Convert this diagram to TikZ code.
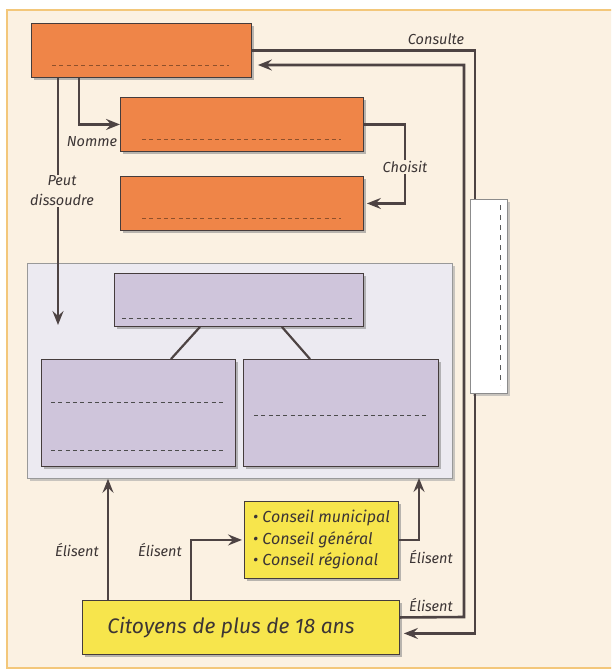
\documentclass[tikz,border=0pt]{standalone}
\usepackage{fontspec}
\setmainfont{Fira Sans}
\usetikzlibrary{arrows.meta,shadows}
\definecolor{cream}{HTML}{FBF1E2}
\definecolor{framec}{HTML}{F3C77A}
\definecolor{orng}{HTML}{EF8548}
\definecolor{lav}{HTML}{CFC5DB}
\definecolor{lavlight}{HTML}{ECEAF1}
\definecolor{yel}{HTML}{F7E54C}
\definecolor{ln}{HTML}{4D4343}
\definecolor{txt}{HTML}{3C3535}
\tikzset{
  boxbase/.style={draw=ln!90!black, line width=0.9pt, anchor=north west, inner sep=0pt,
     drop shadow={shadow xshift=3pt, shadow yshift=-3pt, fill=black!45, opacity=0.6}},
  obox/.style={boxbase, fill=orng},
  pbox/.style={boxbase, fill=lav},
  ybox/.style={boxbase, fill=yel},
  contbox/.style={draw=black!40, line width=0.8pt, fill=lavlight, anchor=north west, inner sep=0pt,
     drop shadow={shadow xshift=3pt, shadow yshift=-3pt, fill=black!35, opacity=0.6}},
  wbox/.style={draw=black!45, line width=0.8pt, fill=white, anchor=north west, inner sep=0pt,
     drop shadow={shadow xshift=3pt, shadow yshift=-3pt, fill=black!35, opacity=0.6}},
  conn/.style={draw=ln, line width=2.6pt},
  arr/.style={conn, -{Stealth[length=14pt, width=11pt, inset=5pt]}},
  lbl/.style={font=\itshape\fontsize{14.5}{20}\selectfont, text=txt, inner sep=1pt, align=center},
  odash/.style={draw=orng!60!black, line width=0.9pt, dash pattern=on 4pt off 3.3pt},
  pdash/.style={draw=black!70, line width=0.8pt, dash pattern=on 4pt off 3.3pt},
}
\begin{document}
\begin{tikzpicture}[x=1pt,y=-1pt]
\useasboundingbox (0,0) rectangle (611,671);
\clip (0,0) rectangle (611,671);
\fill[white] (0,0) rectangle (611,671);
\draw[fill=cream, draw=framec, line width=1.5pt] (7,10) rectangle (625,668);

% executive boxes
\node[obox, minimum width=220pt, minimum height=54pt] (b1) at (31,23) {};
\node[obox, minimum width=243pt, minimum height=54pt] (b2) at (120,97) {};
\node[obox, minimum width=243pt, minimum height=54pt] (b3) at (120,176) {};
\draw[odash] (52,65) -- (229,65);
\draw[odash] (142,139) -- (341,139);
\draw[odash] (142,218) -- (341,218);

% parliament
\node[contbox, minimum width=425pt, minimum height=215pt] (parl) at (27,263) {};
\node[pbox, minimum width=249pt, minimum height=53pt] (pt) at (114,273) {};
\node[pbox, minimum width=194pt, minimum height=107pt] (pl) at (41,359) {};
\node[pbox, minimum width=195pt, minimum height=107pt] (pr) at (243,359) {};
\draw[pdash] (122,318) -- (355,318);
\draw[pdash] (51,402) -- (224,402);
\draw[pdash] (51,450) -- (224,450);
\draw[pdash] (254,415) -- (427,415);
\draw[conn, line width=2.2pt] ([xshift=86pt]pt.south west) -- ([xshift=130pt]pl.north west);
\draw[conn, line width=2.2pt] ([xshift=-82pt]pt.south east) -- ([xshift=67pt]pr.north west);

% white box
\node[wbox, minimum width=37pt, minimum height=194pt] (wb) at (470,199) {};
\draw[draw=black!65, line width=1pt, dash pattern=on 5pt off 5pt] (500,205) -- (500,385);

% local councils and citizens
\node[ybox, minimum width=154pt, minimum height=77pt] (cons) at (244,501) {};
\node[font=\itshape\fontsize{16}{21.7}\selectfont, text=txt, align=left, anchor=west, inner sep=0pt]
  (constxt) at (253,539.5) {• Conseil municipal\\• Conseil général\\• Conseil régional};
\node[ybox, minimum width=317pt, minimum height=54pt] (cit) at (82,600) {};
\node[font=\itshape\fontsize{21}{24}\selectfont, text=txt, inner sep=0pt] (cittxt) at (231,628) {Citoyens de plus de 18 ans};

% labels
\node[lbl] (lcons) at (436,39) {Consulte};
\node[lbl] (lnom) at (92,142) {Nomme};
\node[lbl] (lch) at (405,167) {Choisit};
\node[lbl] (lpd) at (62,191) {Peut\\dissoudre};
\node[lbl] (le1) at (77,550) {Élisent};
\node[lbl] (le2) at (160,550) {Élisent};
\node[lbl] (le3) at (431,557) {Élisent};
\node[lbl] (le4) at (431,605) {Élisent};

% connectors
\coordinate (pdtop) at ([xshift=27pt]b1.south west);
\coordinate (pdend) at (58,325);
\draw[conn] (pdtop) -- (pdtop |- lpd.north);
\draw[arr] (pdtop |- lpd.south) -- (pdend);

\draw[arr] ([xshift=48pt]b1.south west) |- (b2.west);

\draw[conn] (b2.east) -| (lch.north);
\draw[arr, shorten >=3pt] (lch.south) |- (b3.east);

\coordinate (r1) at (464,617);
\coordinate (r1t) at (464,65);
\draw[arr, shorten >=6pt] ([yshift=10pt]cit.east) -- (r1) -- (r1t) -- (r1t -| b1.east);

\draw[conn] (b1.east) -| ([xshift=5pt]wb.north west);
\draw[arr, shorten >=4pt] ([xshift=5pt]wb.south west) |- ([yshift=-6pt]cit.east);

\coordinate (e1) at ([xshift=26pt]cit.north west);
\draw[arr] (e1) -- (e1 |- parl.south);
\coordinate (e2) at ([xshift=109pt]cit.north west);
\draw[arr, shorten >=2pt] (e2) |- (cons.west);
\coordinate (e3) at (419,478);
\draw[arr] (cons.east) -| (e3);
\end{tikzpicture}
\end{document}
